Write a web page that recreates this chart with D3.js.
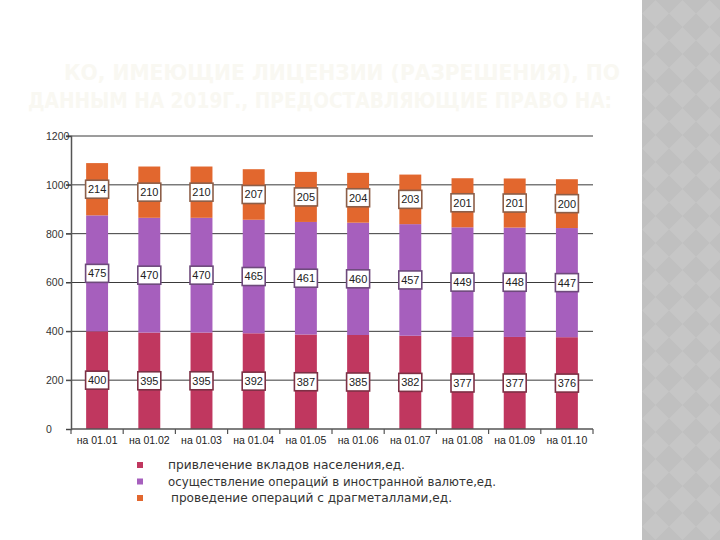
<!DOCTYPE html>
<html><head><meta charset="utf-8">
<script src="https://cdn.jsdelivr.net/npm/d3@7/dist/d3.min.js"></script>
<style>html,body{margin:0;padding:0;background:#fff;}svg{display:block;}</style>
</head><body>
<svg id="c" width="720" height="540"></svg>
<script>
const categories = ["на 01.01","на 01.02","на 01.03","на 01.04","на 01.05","на 01.06","на 01.07","на 01.08","на 01.09","на 01.10"];
const deposits = [400,395,395,392,387,385,382,377,377,376];
const currency = [475,470,470,465,461,460,457,449,448,447];
const metals = [214,210,210,207,205,204,203,201,201,200];
const seriesNames = ["привлечение вкладов населения,ед.","осуществление операций в иностранной валюте,ед."," проведение операций с драгметаллами,ед."];
const seriesColors = ["#c0375f","#a65fbd","#e2672e"];
const seriesBorders = ["#7d3045","#6e4a7c","#8c5e48"];
const yTicks = [0,200,400,600,800,1000,1200];
const titleLines = ["КО, ИМЕЮЩИЕ ЛИЦЕНЗИИ (РАЗРЕШЕНИЯ), ПО","ДАННЫМ НА 2019Г., ПРЕДОСТАВЛЯЮЩИЕ ПРАВО НА:"];

const svg = d3.select("#c");
const defs = svg.append("defs");
const pat = defs.append("pattern").attr("id","dia").attr("patternUnits","userSpaceOnUse")
  .attr("width",27).attr("height",27).attr("x",642).attr("y",0);
pat.append("rect").attr("width",27).attr("height",27).attr("fill","#c0c0c0");
pat.append("path").attr("d","M13.5,0 L27,13.5 L13.5,27 L0,13.5 Z").attr("fill","#c6c6c6");
svg.append("rect").attr("x",642).attr("y",0).attr("width",78).attr("height",540).attr("fill","url(#dia)");

// title (very faint)
svg.append("g").selectAll("text").data(titleLines).join("text")
  .attr("x",(d,i)=> i===0 ? 64 : 28)
  .attr("y",(d,i)=> 80 + i*28)
  .attr("textLength",(d,i)=> i===0 ? 556 : 584)
  .attr("lengthAdjust","spacingAndGlyphs")
  .attr("font-family","DejaVu Sans Condensed, DejaVu Sans, sans-serif").attr("font-weight","bold").attr("font-size",21)
  .attr("fill","#f9f8f2").text(d=>d);

const x0 = 71, x1 = 593, yBase = 429, yTop = 136;
const x = d3.scaleBand().domain(categories).range([x0,x1]).paddingInner(0.58).paddingOuter(0.29);
const y = d3.scaleLinear().domain([0,1200]).range([yBase,yTop]);
const FONT = "Liberation Sans, Arial, sans-serif";

svg.append("g").selectAll("line").data(yTicks.filter(t=>t>0)).join("line")
  .attr("x1",66).attr("x2",x1).attr("y1",d=>y(d)).attr("y2",d=>y(d))
  .attr("stroke","#3a3a3a").attr("stroke-width",1);

const rows = categories.map((c,i)=>({cat:c, s0:deposits[i], s1:currency[i], s2:metals[i]}));
const stack = d3.stack().keys(["s0","s1","s2"])(rows);

const bars = svg.append("g");
stack.forEach((layer,li)=>{
  bars.append("g").attr("fill",seriesColors[li]).selectAll("rect").data(layer).join("rect")
    .attr("x",d=>x(d.data.cat)).attr("width",x.bandwidth())
    .attr("y",d=>y(d[1])).attr("height",d=>y(d[0])-y(d[1]));
});

stack.forEach((layer,li)=>{
  const g = svg.append("g").selectAll("g").data(layer).join("g")
    .attr("transform",d=>`translate(${x(d.data.cat)+x.bandwidth()/2},${y((d[0]+d[1])/2)})`);
  g.append("rect").attr("x",-11.5).attr("y",-9).attr("width",23).attr("height",18)
    .attr("fill","#fff").attr("stroke",seriesBorders[li]).attr("stroke-width",1.6);
  g.append("text").attr("text-anchor","middle").attr("dy","0.36em")
    .attr("font-family",FONT).attr("font-size",11).attr("fill","#222")
    .text(d=>d[1]-d[0]);
});

const yAxis = svg.append("g").attr("transform",`translate(${x0},0)`)
  .call(d3.axisLeft(y).tickValues(yTicks).tickSize(5).tickFormat(d3.format("d")));
yAxis.select(".domain").attr("stroke","#555").attr("stroke-width",1.5);
yAxis.selectAll(".tick line").attr("stroke","#444");
yAxis.selectAll(".tick text").attr("text-anchor","start").attr("x",-25)
  .attr("font-family",FONT).attr("font-size",10.5).attr("fill","#333");

svg.append("line").attr("x1",x0).attr("x2",x1).attr("y1",yBase).attr("y2",yBase)
  .attr("stroke","#555").attr("stroke-width",1.5);
const bounds = d3.range(categories.length+1).map(k=>x0 + k*x.step());
svg.append("g").selectAll("line").data(bounds).join("line")
  .attr("x1",d=>d).attr("x2",d=>d).attr("y1",yBase).attr("y2",yBase+5)
  .attr("stroke","#555").attr("stroke-width",1.2);
svg.append("g").selectAll("text").data(categories).join("text")
  .attr("x",d=>x(d)+x.bandwidth()/2).attr("y",yBase+15)
  .attr("text-anchor","middle").attr("font-family",FONT)
  .attr("font-size",10.5).attr("fill","#222").text(d=>d);

const lg = svg.append("g").selectAll("g").data(seriesNames).join("g")
  .attr("transform",(d,i)=>`translate(137,${465+i*16.5})`);
lg.append("rect").attr("x",0).attr("y",-3).attr("width",6).attr("height",6)
  .attr("fill",(d,i)=>seriesColors[i]);
lg.append("text").attr("x",(d,i)=> i===2 ? 34 : 31).attr("dy","0.35em")
  .attr("textLength",(d,i)=>[237,328,281][i]).attr("lengthAdjust","spacingAndGlyphs")
  .attr("font-family","DejaVu Sans, sans-serif").attr("font-size",12.5).attr("fill","#333")
  .text(d=>d.trim());
</script>
</body></html>
